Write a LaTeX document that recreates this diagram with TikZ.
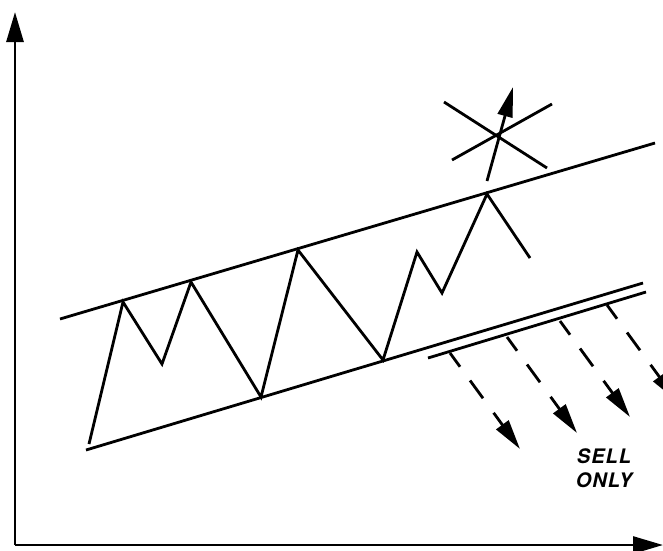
\documentclass[tikz,border=0pt]{standalone}
\usepackage{fontspec}
\setsansfont{TeX Gyre Heros}
\usepackage{tikz}
\usetikzlibrary{arrows.meta}

\begin{document}
\begin{tikzpicture}[
		x=1pt,
		y=-1pt,
		line width=2.8pt,
		axis/.style={-{Triangle[length=30pt,width=17pt]}},
		breakout/.style={-{Triangle[length=30pt,width=15pt]}},
		sellarrow/.style={-{Triangle[length=30pt,width=15pt]},
			dash pattern=on 17pt off 17pt on 22pt off 18pt on 90pt},
		sell/.style={align=center, inner sep=0pt,
			font=\fontsize{20}{24}\selectfont\sffamily\bfseries\itshape\addfontfeature{LetterSpace=5}}
		]
		\useasboundingbox (0,0) rectangle (663,550);
		\clip (0,0) rectangle (663,550);
		
		% Axes
		\coordinate (o) at (15,545);
		\coordinate (ytop) at (15,12);
		\coordinate (xend) at (663,545);
		\draw[axis] (o) -- (ytop);
		\draw[axis] (o) -- (xend);
		
		% Channel lines
		\coordinate (up-l) at (60,319);
		\coordinate (up-r) at (655,143);
		\coordinate (lo-l) at (86,450);
		\coordinate (lo-r) at (643,283);
		\coordinate (in-l) at (428,358);
		\coordinate (in-r) at (646,292);
		\draw (up-l) -- (up-r);
		\draw (lo-l) -- (lo-r);
		\draw (in-l) -- (in-r);
		
		% Price swings
		\foreach \n/\px/\py in {
			0/89/444, 1/123/302, 2/162/364, 3/191/282, 4/261/397, 5/298/250,
			6/383/360, 7/417/252, 8/442/293, 9/487/194, 10/530/258
		}{
			\coordinate (p\n) at (\px,\py);
		}
		\draw (p0) -- (p1) -- (p2) -- (p3) -- (p4) -- (p5) -- (p6) -- (p7)
			-- (p8) -- (p9) -- (p10);
		
		% Failed breakout
		\coordinate (b0) at (487,181);
		\coordinate (b1) at (513,87);
		\draw[breakout] (b0) -- (b1);
		\coordinate (c1) at (444,102);
		\coordinate (c2) at (547,168);
		\coordinate (c3) at (452,160);
		\coordinate (c4) at (552,104);
		\draw (c1) -- (c2);
		\draw (c3) -- (c4);
		
		% Sell arrows
		\foreach \n/\sx/\sy in {1/450/353, 2/507/337, 3/560/321, 4/607/305}{
			\coordinate (s\n) at (\sx,\sy);
			\draw[sellarrow] (s\n) -- ++(70,96);
		}
		\node[sell] (sellonly) at (604,468) {SELL\\ONLY};
		
	\end{tikzpicture}
\end{document}
